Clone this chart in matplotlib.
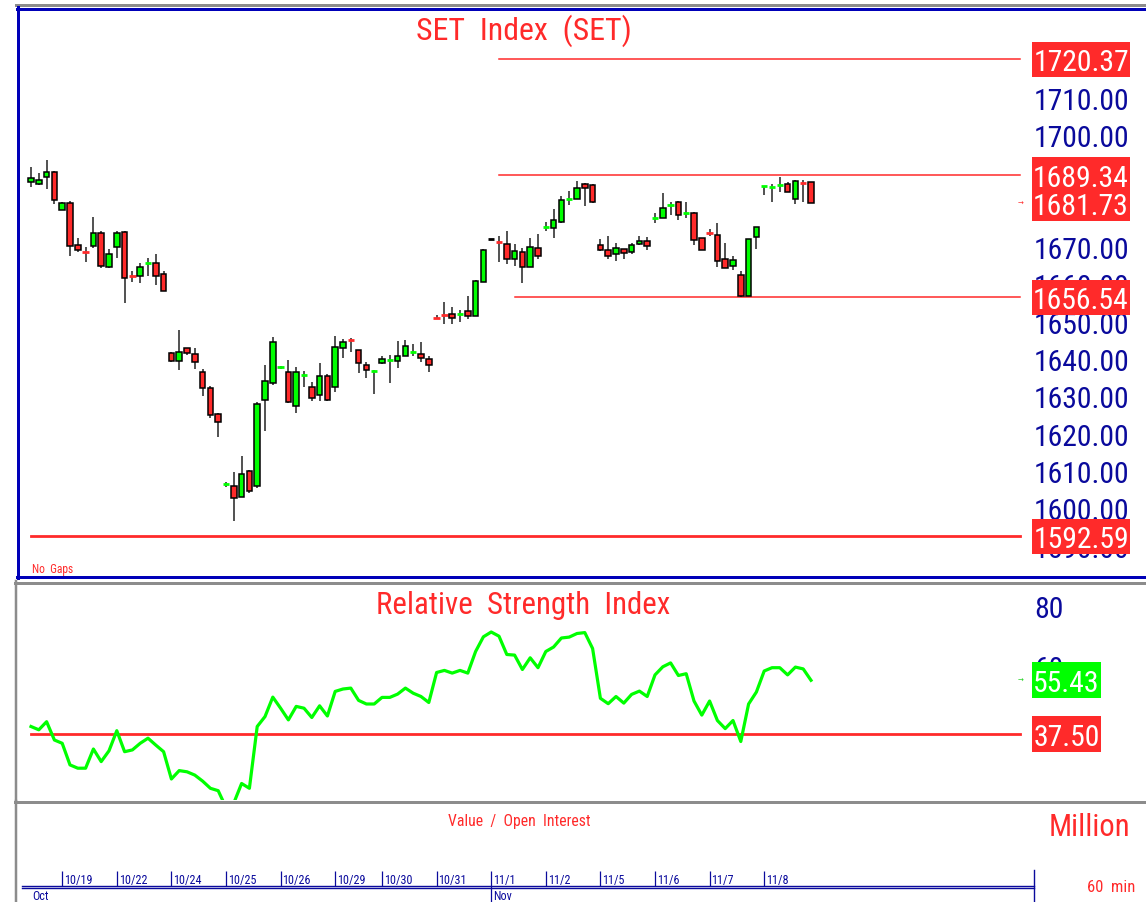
import matplotlib
matplotlib.use("Agg")
import matplotlib.pyplot as plt
from matplotlib import font_manager
from matplotlib.font_manager import FontProperties
from matplotlib.textpath import TextPath
from matplotlib.patches import Rectangle
from matplotlib.transforms import blended_transform_factory

# ---------------- data ----------------
opens = [1687.3, 1686.8, 1688.8, 1690.2, 1680.0, 1681.8, 1670.5, 1669.0, 1670.4, 1673.7,
         1664.7, 1669.9, 1674.1, 1662.5, 1662.3, 1665.5, 1665.7, 1662.9, 1641.6, 1639.6,
         1642.9, 1641.3, 1636.6, 1632.2, 1625.3, 1606.3, 1606.1, 1603.1, 1610.1, 1605.9,
         1629.1, 1633.5, 1637.6, 1636.4, 1627.5, 1635.4, 1632.4, 1630.4, 1635.5, 1632.4,
         1642.9, 1645.2, 1642.4, 1638.4, 1636.7, 1638.9, 1639.5, 1639.6, 1640.9, 1641.7,
         1641.4, 1640.0, 1651.1, 1652.1, 1652.1, 1651.8, 1652.8, 1651.6, 1660.7, 1672.1,
         1671.6, 1670.8, 1666.8, 1668.6, 1664.7, 1669.7, 1675.1, 1675.1, 1676.8, 1682.6,
         1682.9, 1686.9, 1686.6, 1670.5, 1669.2, 1668.1, 1669.4, 1668.8, 1670.7, 1671.7,
         1677.7, 1677.9, 1681.0, 1682.1, 1678.9, 1679.0, 1672.4, 1673.9, 1673.3, 1666.8,
         1664.8, 1662.5, 1657.0, 1672.8, 1685.6, 1685.8, 1686.4, 1686.9, 1682.9, 1687.3,
         1687.3]
highs = [1691.4, 1689.8, 1693.4, 1690.4, 1682.1, 1682.3, 1672.3, 1669.9, 1678.1, 1674.4,
         1669.4, 1674.3, 1674.2, 1663.7, 1665.7, 1667.1, 1668.1, 1663.6, 1641.8, 1647.8,
         1643.0, 1642.9, 1637.3, 1632.9, 1625.5, 1607.0, 1609.7, 1614.1, 1610.2, 1628.4,
         1638.5, 1645.8, 1638.2, 1639.7, 1637.8, 1636.9, 1633.8, 1638.9, 1636.0, 1646.3,
         1645.4, 1645.6, 1642.5, 1639.3, 1637.1, 1640.9, 1641.1, 1644.9, 1645.1, 1644.0,
         1644.5, 1640.9, 1651.9, 1655.4, 1653.9, 1653.2, 1657.0, 1661.3, 1669.5, 1672.1,
         1672.9, 1674.2, 1670.8, 1669.7, 1672.4, 1673.4, 1676.6, 1680.2, 1683.8, 1684.9,
         1687.8, 1687.2, 1686.9, 1672.2, 1673.0, 1671.1, 1669.5, 1671.1, 1673.0, 1672.6,
         1679.0, 1684.4, 1682.0, 1682.2, 1682.0, 1679.3, 1672.5, 1674.8, 1676.4, 1671.1,
         1667.5, 1663.7, 1672.2, 1675.3, 1686.3, 1686.9, 1688.7, 1687.3, 1688.0, 1688.0,
         1687.4]
lows = [1686.0, 1686.5, 1685.5, 1681.5, 1679.9, 1667.5, 1668.6, 1665.9, 1669.8, 1664.3,
        1664.3, 1667.1, 1655.0, 1660.6, 1660.3, 1662.3, 1659.8, 1658.2, 1639.1, 1637.1,
        1641.1, 1637.3, 1630.2, 1624.2, 1619.0, 1605.6, 1596.5, 1603.0, 1604.0, 1605.5,
        1620.6, 1633.0, 1637.3, 1628.3, 1625.5, 1632.6, 1628.8, 1628.7, 1628.8, 1631.1,
        1640.2, 1642.0, 1636.2, 1634.9, 1630.6, 1638.7, 1633.5, 1637.5, 1640.8, 1640.7,
        1639.3, 1636.6, 1650.8, 1649.4, 1649.4, 1649.8, 1650.7, 1651.5, 1660.6, 1672.1,
        1665.9, 1665.5, 1665.0, 1660.3, 1664.6, 1666.8, 1674.4, 1672.4, 1676.4, 1681.3,
        1682.8, 1681.1, 1681.7, 1668.9, 1666.8, 1666.3, 1666.8, 1668.1, 1670.6, 1669.2,
        1676.4, 1677.8, 1678.7, 1677.2, 1677.8, 1670.5, 1669.1, 1672.9, 1664.6, 1664.3,
        1663.9, 1656.7, 1656.8, 1669.5, 1683.9, 1682.0, 1684.8, 1684.8, 1681.5, 1682.0,
        1681.7]
closes = [1688.5, 1688.0, 1690.2, 1682.7, 1681.7, 1670.4, 1669.2, 1668.8, 1673.7, 1665.0,
          1668.1, 1673.8, 1661.6, 1662.3, 1664.6, 1665.7, 1662.3, 1658.3, 1639.6, 1641.8,
          1641.5, 1639.1, 1632.3, 1625.1, 1623.1, 1606.5, 1602.7, 1609.2, 1604.7, 1628.0,
          1634.0, 1644.5, 1637.8, 1628.4, 1636.4, 1635.6, 1629.6, 1635.5, 1628.9, 1643.3,
          1644.5, 1645.0, 1638.9, 1637.1, 1636.9, 1640.0, 1639.7, 1640.9, 1643.6, 1641.9,
          1640.4, 1638.4, 1650.9, 1651.9, 1651.0, 1652.0, 1651.6, 1660.9, 1669.3, 1672.1,
          1671.4, 1666.8, 1668.9, 1664.7, 1670.1, 1667.5, 1675.3, 1677.3, 1682.5, 1682.8,
          1685.7, 1685.7, 1682.0, 1669.2, 1667.5, 1669.7, 1668.3, 1670.5, 1671.7, 1670.4,
          1677.9, 1680.5, 1681.2, 1678.7, 1679.1, 1671.9, 1669.2, 1673.7, 1666.3, 1664.4,
          1666.5, 1657.0, 1672.2, 1675.3, 1686.3, 1686.0, 1686.6, 1684.8, 1687.6, 1687.1,
          1681.73]
rsi = [40.0, 38.9, 41.6, 35.5, 34.4, 27.2, 26.1, 26.1, 32.5, 28.3,
       31.9, 38.6, 31.6, 32.2, 34.4, 36.1, 33.8, 31.6, 22.5, 25.3,
       24.9, 23.8, 21.8, 19.4, 18.6, 13.0, 14.5, 21.0, 19.4, 40.0,
       43.3, 49.8, 46.1, 42.2, 46.7, 46.1, 43.0, 46.9, 43.5, 51.7,
       52.5, 52.8, 48.7, 47.5, 47.5, 49.7, 49.7, 50.8, 52.8, 51.1,
       50.0, 48.0, 58.0, 58.7, 57.8, 58.7, 57.8, 65.0, 69.9, 71.5,
       70.1, 64.0, 63.8, 59.0, 62.9, 59.6, 65.0, 66.5, 69.5, 69.8,
       71.0, 71.3, 66.0, 49.4, 47.6, 50.0, 47.8, 50.7, 51.8, 50.0,
       57.2, 59.9, 61.2, 57.0, 57.6, 48.5, 43.8, 48.5, 42.0, 39.3,
       42.0, 35.0, 47.5, 51.5, 58.5, 59.6, 59.6, 57.2, 59.8, 59.2,
       55.4]
day_starts = [4, 11, 18, 25, 32, 39, 45, 52, 59, 66, 73, 80, 87, 94]
day_labels = ['10/19', '10/22', '10/24', '10/25', '10/26', '10/29', '10/30',
              '10/31', '11/1', '11/2', '11/5', '11/6', '11/7', '11/8']
month_starts = [0, 59]
month_labels = ['Oct', 'Nov']
price_ticks = [1590, 1600, 1610, 1620, 1630, 1640, 1650, 1660, 1670, 1700, 1710]
rsi_ticks = [40, 60, 80]
levels = [1720.37, 1689.34, 1656.54, 1592.59]
level_start = [60, 60, 62, 0]
last_price = 1681.73
rsi_last = 55.43
rsi_level = 37.50

# ---------------- fonts (narrow sans if available, sized by ink width) ----------------
def find_font():
    entries = font_manager.fontManager.ttflist
    regular = lambda f: f.style == 'normal' and str(f.weight) in ('400', 'normal', 'regular')
    for name in ['Liberation Sans Narrow', 'Arial Narrow', 'Roboto Condensed',
                 'Open Sans Condensed', 'Noto Sans Condensed']:
        for f in entries:
            if f.name == name and regular(f):
                return FontProperties(fname=f.fname)
    for name in ['Roboto', 'Noto Sans', 'Open Sans', 'Liberation Sans']:
        for f in entries:
            if f.name == name and regular(f) and f.stretch in ('condensed', 'semi-condensed'):
                return FontProperties(fname=f.fname)
    return FontProperties(family='Liberation Sans')


BASE_FP = find_font()


def fp_for(sample, target_px):
    w10 = TextPath((0, 0), sample, size=10, prop=BASE_FP).get_extents().width
    size = target_px * 10 * 0.72 / w10
    fp = BASE_FP.copy()
    fp.set_size(size)
    return fp


FP_LABEL = fp_for('1710.00', 92)
FP_TITLE = fp_for('SET  Index  (SET)', 212)
FP_RSI_TITLE = fp_for('Relative  Strength  Index', 291)
FP_DATE = fp_for('10/22', 27)
FP_VOI = fp_for('Value  /  Open  Interest', 141)
FP_MILLION = fp_for('Million', 77)
FP_MIN = fp_for('60  min', 46)
FP_NOGAP = fp_for('No  Gaps', 40)

RED = '#FF2A2A'
GREEN = '#00FF00'
NAVY = '#0A0A9C'
BLUE = '#0000B8'
GREY = '#8C8C8C'

W, H = 1146, 903
fig = plt.figure(figsize=(W / 100, H / 100), dpi=100)
fig.patch.set_facecolor('white')


def fbox(x0, y0, x1, y1):
    return [x0 / W, 1 - y1 / H, (x1 - x0) / W, (y1 - y0) / H]


X0_PX, DX_PX = 31, 7.8
xlim = ((17 - X0_PX) / DX_PX, (W - X0_PX) / DX_PX)


def frac(xd):
    return (xd - xlim[0]) / (xlim[1] - xlim[0])


AW = W - 17
RIGHT_EDGE = (1020 - 17) / AW
LBL_X = (1034 - 17) / AW
BOX_X = (1032 - 17) / AW

# ---------------- price panel ----------------
ax = fig.add_axes(fbox(17, 9, W, 578))
ax.set_xlim(*xlim)
ppx = 3.733
ax.set_ylim(1720.37 - (578 - 60) / ppx, 1720.37 + (60 - 9) / ppx)
ax.axis('off')

for lv, st in zip(levels, level_start):
    lw = 2.0 if st == 0 else 1.1
    ax.axhline(lv, xmin=frac(st), xmax=RIGHT_EDGE, color=RED, lw=lw, zorder=1)

n = len(closes)
xs = list(range(n))
ax.vlines(xs, lows, highs, color='#222222', lw=1.1, zorder=2)
for i in xs:
    o, c = opens[i], closes[i]
    col = GREEN if c > o else (RED if c < o else 'black')
    if abs(c - o) < 0.8:
        ax.hlines(c, i - 0.42, i + 0.42, color=col, lw=2.0, zorder=3)
    else:
        ax.bar(i, abs(c - o), bottom=min(o, c), width=0.72, color=col,
               edgecolor='black', lw=1.1, zorder=3)

tr = blended_transform_factory(ax.transAxes, ax.transData)
for t in price_ticks:
    ax.text(LBL_X, t, f'{t:.2f}', transform=tr, ha='left', va='center_baseline',
            fontproperties=FP_LABEL, color=NAVY, zorder=4)
box_h = 35 / ppx
for lv in levels + [last_price]:
    ax.add_patch(Rectangle((BOX_X, lv - box_h / 2), 98 / AW, box_h,
                           transform=tr, facecolor=RED, edgecolor='none',
                           zorder=5, clip_on=False))
    ax.text(BOX_X + 49 / AW, lv, f'{lv:.2f}', transform=tr, ha='center',
            va='center_baseline', fontproperties=FP_LABEL, color='white', zorder=6)
ax.text((1021 - 17) / AW, last_price, '→', transform=tr, ha='center',
        va='center', fontsize=5, color=RED, zorder=6)
ax.text((524 - 17) / AW, 1 - (31 - 9) / 569, 'SET  Index  (SET)', transform=ax.transAxes,
        ha='center', va='center', fontproperties=FP_TITLE, color=RED)
ax.text((32 - 17) / AW, 1 - (570 - 9) / 569, 'No  Gaps', transform=ax.transAxes,
        ha='left', va='center', fontproperties=FP_NOGAP, color=RED)

# ---------------- RSI panel ----------------
ar = fig.add_axes(fbox(17, 585, W, 801))
ar.set_xlim(*xlim)
rpx = 3.0
ar.set_ylim(80 - (801 - 607.5) / rpx, 80 + (607.5 - 585) / rpx)
ar.axis('off')
ar.axhline(rsi_level, xmin=frac(0), xmax=RIGHT_EDGE, color=RED, lw=2.0, zorder=1)
ar.plot(xs, rsi, color=GREEN, lw=2.3, zorder=2, solid_joinstyle='round')
trr = blended_transform_factory(ar.transAxes, ar.transData)
for t in rsi_ticks:
    ar.text(LBL_X, t, f'{t}', transform=trr, ha='left', va='center_baseline',
            fontproperties=FP_LABEL, color=NAVY, zorder=4)
rbox_h = 35.5 / rpx
for v, col in ((rsi_last, GREEN), (rsi_level, RED)):
    ar.add_patch(Rectangle((BOX_X, v - rbox_h / 2), 69 / AW, rbox_h,
                           transform=trr, facecolor=col, edgecolor='none',
                           zorder=5, clip_on=False))
    ar.text(BOX_X + 34.5 / AW, v, f'{v:.2f}', transform=trr, ha='center',
            va='center_baseline', fontproperties=FP_LABEL, color='white', zorder=6)
ar.text((1021 - 17) / AW, rsi_last, '→', transform=trr, ha='center',
        va='center', fontsize=5, color='#20D020', zorder=6)
ar.text((523 - 17) / AW, 1 - 21 / 216, 'Relative  Strength  Index', transform=ar.transAxes,
        ha='center', va='center', fontproperties=FP_RSI_TITLE, color=RED)

# ---------------- bottom panel (time axis) ----------------
ab = fig.add_axes(fbox(17, 805, W, H))
ab.set_xlim(*xlim)
ab.set_ylim(H, 805)
ab.axis('off')
trb = blended_transform_factory(ab.transAxes, ab.transData)
ax_l, ax_r = (22 - 17) / AW, (1034 - 17) / AW
ab.plot([ax_l, ax_r], [886.7, 886.7], transform=trb, color=NAVY, lw=1.0)
ab.plot([ax_l, ax_r], [888.7, 888.7], transform=trb, color=NAVY, lw=1.0)
ab.plot([ax_r, ax_r], [871, H], transform=trb, color=NAVY, lw=1.0)
ab.vlines(day_starts, 872, 887, color=NAVY, lw=0.9)
for d, lab in zip(day_starts, day_labels):
    ab.text(d + 0.25, 881, lab, ha='left', va='center', fontproperties=FP_DATE,
            color=NAVY)
for m, lab in zip(month_starts, month_labels):
    if m > 0:
        ab.vlines(m, 887, H, color=NAVY, lw=0.9)
    ab.text(m + 0.2, 897, lab, ha='left', va='center', fontproperties=FP_DATE,
            color=NAVY)
ab.text((519 - 17) / AW, 822, 'Value  /  Open  Interest', transform=trb, ha='center',
        va='center', fontproperties=FP_VOI, color=RED)
ab.text((1089 - 17) / AW, 828, 'Million', transform=trb, ha='center',
        va='center', fontproperties=FP_MILLION, color=RED)
ab.text((1111 - 17) / AW, 888, '60  min', transform=trb, ha='center',
        va='center', fontproperties=FP_MIN, color=RED)

# ---------------- frames (pixel overlay) ----------------
ov = fig.add_axes([0, 0, 1, 1], zorder=10)
ov.set_xlim(0, W)
ov.set_ylim(H, 0)
ov.axis('off')
ov.patch.set_alpha(0)
k = 0.72
ov.plot([16, W], [6.2, 6.2], color=GREY, lw=3 * k)
ov.plot([17, W], [9.5, 9.5], color=BLUE, lw=3 * k)
ov.plot([18, 18], [8, 579], color=BLUE, lw=3 * k)
ov.plot([16.5, W], [577.5, 577.5], color=BLUE, lw=3 * k)
ov.plot([15, W], [583.5, 583.5], color=GREY, lw=3 * k)
ov.plot([16, 16], [582, 802], color=GREY, lw=2.5 * k)
ov.plot([15, W], [803, 803], color=GREY, lw=3 * k)
ov.plot([16, 16], [802, H], color=GREY, lw=2.5 * k)

fig.savefig('out.png', dpi=100, facecolor='white')
